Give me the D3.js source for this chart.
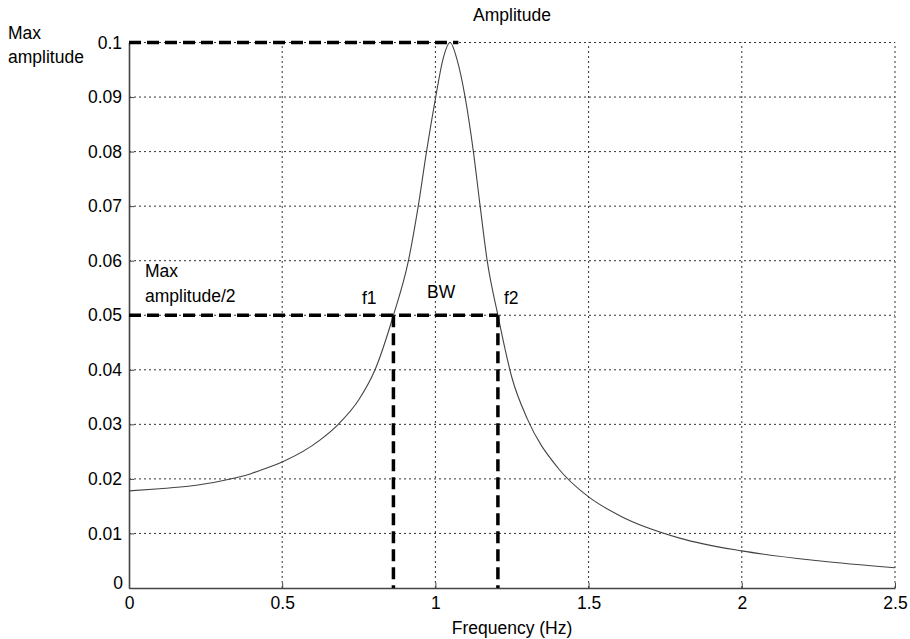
<!DOCTYPE html>
<html><head><meta charset="utf-8">
<script src="https://cdn.jsdelivr.net/npm/d3@7"></script>
<style>body{margin:0;background:#fff}svg{display:block}text{font-family:"Liberation Sans",Arial,sans-serif;fill:#000}</style>
</head><body><svg id="c" width="910" height="639"></svg>
<script>
const freq = [0, 0.1, 0.2, 0.25, 0.3, 0.356, 0.4, 0.45, 0.5, 0.623, 0.683, 0.75, 0.803, 0.863, 0.912, 0.944, 0.971, 1.001, 1.025, 1.048, 1.07, 1.097, 1.124, 1.146, 1.169, 1.204, 1.25, 1.3, 1.4, 1.5, 1.6, 1.8, 2.0, 2.25, 2.5];
const amp  = [0.0178, 0.0182, 0.0187, 0.0191, 0.0196, 0.0203, 0.0210, 0.0220, 0.0231, 0.0271, 0.0300, 0.0345, 0.0400, 0.0500, 0.0600, 0.0700, 0.0800, 0.0900, 0.0970, 0.1000, 0.0970, 0.0900, 0.0800, 0.0700, 0.0600, 0.0500, 0.0385, 0.0310, 0.0220, 0.0167, 0.0133, 0.0091, 0.0068, 0.0050, 0.0037];
const xTicks = [0, 0.5, 1, 1.5, 2, 2.5];
const xTickLabels = ["0", "0.5", "1", "1.5", "2", "2.5"];
const yTicks = [0, 0.01, 0.02, 0.03, 0.04, 0.05, 0.06, 0.07, 0.08, 0.09, 0.1];
const yTickLabels = ["0", "0.01", "0.02", "0.03", "0.04", "0.05", "0.06", "0.07", "0.08", "0.09", "0.1"];
const maxAmp = 0.1, halfAmp = 0.05, fPeakLineEnd = 1.075, f1 = 0.863, f2 = 1.204;

const FS = "17.5px";
const svg = d3.select("#c");
const x = d3.scaleLinear().domain([0, 2.5]).range([129, 895]);
const y = d3.scaleLinear().domain([0, 0.1]).range([588, 42.5]);

// grid
const g = svg.append("g");
g.selectAll(".gx").data(xTicks.slice(1)).enter().append("line")
  .attr("x1", d => x(d)).attr("x2", d => x(d)).attr("y1", y(0)).attr("y2", y(0.1))
  .attr("stroke", "#333").attr("stroke-width", 1).attr("stroke-dasharray", "2,3");
g.selectAll(".gy").data(yTicks.slice(1)).enter().append("line")
  .attr("x1", x(0)).attr("x2", x(2.5)).attr("y1", d => y(d)).attr("y2", d => y(d))
  .attr("stroke", "#333").attr("stroke-width", 1).attr("stroke-dasharray", "2,3");

// axes
const xAxis = d3.axisBottom(x).tickValues(xTicks).tickFormat((d, i) => xTickLabels[i]).tickSizeInner(-5).tickSizeOuter(0).tickPadding(9);
const yAxis = d3.axisLeft(y).tickValues(yTicks).tickFormat((d, i) => yTickLabels[i]).tickSizeInner(-5).tickSizeOuter(0).tickPadding(7);
const ax = svg.append("g").attr("transform", `translate(0,${y(0)})`).call(xAxis);
const ay = svg.append("g").attr("transform", `translate(${x(0)},0)`).call(yAxis);
[ax, ay].forEach(a => {
  a.select(".domain").attr("stroke", "#444").attr("stroke-width", 1.6);
  a.selectAll(".tick line").attr("stroke", "#444");
  a.selectAll("text").style("font-family", '"Liberation Sans",Arial,sans-serif').style("font-size", FS).attr("fill", "#000");
});
ay.selectAll(".tick text").filter(d => d === 0).attr("dy", "0.05em").attr("x", -6);

// curve
svg.append("path").datum(freq.map((f, i) => [f, amp[i]]))
  .attr("d", d3.line().x(d => x(d[0])).y(d => y(d[1])).curve(d3.curveMonotoneX))
  .attr("fill", "none").attr("stroke", "#444").attr("stroke-width", 1.1);

// dashed markers
const dash = svg.append("g").attr("stroke", "#000").attr("stroke-width", 3.5).attr("stroke-dasharray", "12,6").attr("fill", "none");
dash.append("line").attr("x1", x(0)).attr("x2", x(fPeakLineEnd)).attr("y1", y(maxAmp)).attr("y2", y(maxAmp));
dash.append("line").attr("x1", x(0)).attr("x2", x(f2)).attr("y1", y(halfAmp)).attr("y2", y(halfAmp));
dash.append("line").attr("x1", x(f1)).attr("x2", x(f1)).attr("y1", y(halfAmp)).attr("y2", y(0));
dash.append("line").attr("x1", x(f2)).attr("x2", x(f2)).attr("y1", y(halfAmp)).attr("y2", y(0));

// texts
const t = (s, px, py, anchor) => svg.append("text").attr("x", px).attr("y", py).attr("text-anchor", anchor || "start").style("font-size", FS).text(s);
t("Amplitude", 512, 21, "middle");
t("Max", 8, 39);
t("amplitude", 8, 63);
t("Max", 145, 277);
t("amplitude/2", 145, 302);
t("f1", 362, 304);
t("BW", 427, 298);
t("f2", 504, 304);
t("Frequency (Hz)", 512, 634, "middle");
</script></body></html>
